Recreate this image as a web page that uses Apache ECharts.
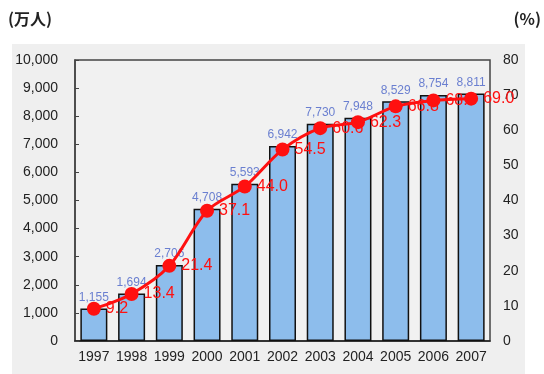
<!DOCTYPE html>
<html><head><meta charset="utf-8">
<script src="https://cdn.jsdelivr.net/npm/echarts@6/dist/echarts.min.js"></script>
<style>html,body{margin:0;padding:0;background:#fff}#c{width:544px;height:374px}</style>
</head><body><div id="c"></div>
<script>
const years = ['1997','1998','1999','2000','2001','2002','2003','2004','2005','2006','2007'];
const users = [1155,1694,2706,4708,5593,6942,7730,7948,8529,8754,8811];
const rate = [9.2,13.4,21.4,37.1,44.0,54.5,60.6,62.3,66.8,68.5,69.0];
const leftTicks = [0,1000,2000,3000,4000,5000,6000,7000,8000,9000,10000];
const rightTicks = [0,10,20,30,40,50,60,70,80];

const chart = echarts.init(document.getElementById('c'));
const font = 'Liberation Sans, Arial, sans-serif';
chart.setOption({
  animation:false,
  backgroundColor:'#fff',
  graphic:[
    {type:'rect', z:-10, shape:{x:12,y:44,width:513,height:330}, style:{fill:'#efefef'}},
    {type:'text', left:8, top:11, style:{text:'(万人)', font:'bold 16px "Noto Sans CJK JP", sans-serif', fill:'#222'}},
    {type:'text', right:3, top:11, style:{text:'(%)', font:'bold 16px "Noto Sans CJK JP", sans-serif', fill:'#222'}}
  ],
  grid:{left:75,right:54,top:60,bottom:33,show:true,borderColor:'#444',borderWidth:1.5,backgroundColor:'#f1f1f1'},
  xAxis:{type:'category',data:years,
    axisLine:{lineStyle:{color:'#222',width:1.5}},axisTick:{show:false},
    axisLabel:{color:'#222',fontSize:14,fontFamily:font,margin:9,interval:0}},
  yAxis:[
    {type:'value',min:0,max:10000,interval:1000,
      axisLine:{show:true,lineStyle:{color:'#444',width:1.5}},
      axisTick:{show:true,inside:true,length:4,lineStyle:{color:'#444'}},
      splitLine:{show:false},
      axisLabel:{color:'#222',fontSize:14,fontFamily:font,margin:17,
        formatter:v=>v.toLocaleString('en-US')}},
    {type:'value',min:0,max:80,interval:10,
      axisLine:{show:false},axisTick:{show:false},splitLine:{show:false},
      axisLabel:{color:'#222',fontSize:14,fontFamily:font,margin:13}}
  ],
  series:[
    {type:'bar',data:users,barWidth:27,yAxisIndex:0,
      itemStyle:{color:'#8dbdec',borderColor:'#111',borderWidth:1.5},
      label:{show:true,position:'top',distance:5,color:'#6a7fd0',fontSize:12,fontFamily:font,
        formatter:p=>p.value.toLocaleString('en-US')}},
    {type:'line',data:rate,yAxisIndex:1,smooth:0.3,symbol:'circle',symbolSize:14,
      lineStyle:{color:'#ff1010',width:3},itemStyle:{color:'#ff1010'},
      label:{show:true,position:'right',distance:5,color:'#ff1010',fontSize:16,fontFamily:font,
        formatter:p=>p.value.toFixed(1)}}
  ]
});
</script></body></html>
